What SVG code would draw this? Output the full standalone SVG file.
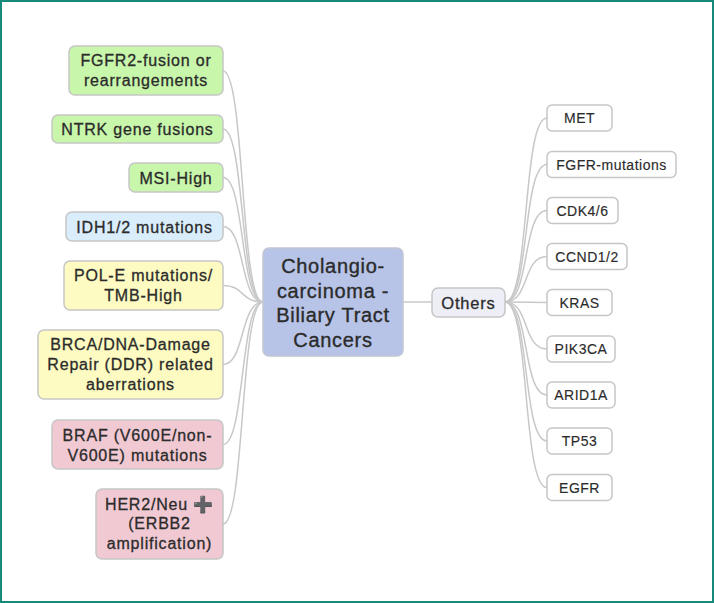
<svg xmlns="http://www.w3.org/2000/svg" width="714" height="603" viewBox="0 0 714 603">
<style>
.n{stroke:#c6c6c6;stroke-width:1.5}
.g{fill:#c8f6aa}.b{fill:#daedfb}.y{fill:#fdfbc1}.p{fill:#f1c9d2}
.t{font-family:"Liberation Sans",Arial,sans-serif;font-size:16px;letter-spacing:0.8px;fill:#2b2b2b;stroke:#2b2b2b;stroke-width:0.3px;text-anchor:middle}
.r{fill:#fff}
.s{font-family:"Liberation Sans",Arial,sans-serif;font-size:14px;letter-spacing:0.5px;fill:#2b2b2b;stroke:#2b2b2b;stroke-width:0.15px;text-anchor:middle}
.c{fill:none;stroke:#c8c8c8;stroke-width:1.5}
</style>
<rect x="0" y="0" width="714" height="603" fill="#fff"/>
<rect x="1" y="1" width="712" height="601" fill="none" stroke="#17897a" stroke-width="2"/>
<g id="connectors">
<path class="c" d="M223,71 C245,71 240,302 263,302"/>
<path class="c" d="M223,129 C245,129 240,302 263,302"/>
<path class="c" d="M223,177.5 C245,177.5 240,302 263,302"/>
<path class="c" d="M223,226.5 C245,226.5 240,302 263,302"/>
<path class="c" d="M223,285.5 C245,285.5 240,302 263,302"/>
<path class="c" d="M223,364.5 C245,364.5 240,302 263,302"/>
<path class="c" d="M223,444.5 C245,444.5 240,302 263,302"/>
<path class="c" d="M223,524 C245,524 240,302 263,302"/>
<path class="c" d="M403,302 L432,302"/>
<path class="c" d="M505,302 C530,302 522,118 547,118"/>
<path class="c" d="M505,302 C530,302 522,164.5 547,164.5"/>
<path class="c" d="M505,302 C530,302 522,210.5 547,210.5"/>
<path class="c" d="M505,302 C530,302 522,256.5 547,256.5"/>
<path class="c" d="M505,302 L547,302.5"/>
<path class="c" d="M505,302 C530,302 522,349 547,349"/>
<path class="c" d="M505,302 C530,302 522,395 547,395"/>
<path class="c" d="M505,302 C530,302 522,441 547,441"/>
<path class="c" d="M505,302 C530,302 522,487.5 547,487.5"/>
</g>
<g id="center">
<rect x="263" y="248" width="140" height="108" rx="6" fill="#b7c4e7" stroke="#c2c6d4" stroke-width="1.5"/>
<text font-family="Liberation Sans,Arial,sans-serif" font-size="20" letter-spacing="0.7" fill="#2b2b2b" stroke="#2b2b2b" stroke-width="0.35" text-anchor="middle">
<tspan x="333" y="273">Cholangio-</tspan><tspan x="333" y="297.5">carcinoma -</tspan><tspan x="333" y="322">Biliary Tract</tspan><tspan x="333" y="346.5">Cancers</tspan></text>
</g>
<g id="others">
<rect x="432" y="288" width="73" height="29" rx="6" fill="#eeeef6" stroke="#c6c6c6" stroke-width="1.5"/>
<text x="468.5" y="308.5" font-family="Liberation Sans,Arial,sans-serif" font-size="16.5" letter-spacing="0.8" fill="#2b2b2b" stroke="#2b2b2b" stroke-width="0.3" text-anchor="middle">Others</text>
</g>
<g id="fgfr2">
<rect class="n g" x="69" y="46" width="154" height="49" rx="6"/>
<text class="t"><tspan x="146" y="66">FGFR2-fusion or</tspan><tspan x="146" y="86">rearrangements</tspan></text>
</g>
<g id="ntrk">
<rect class="n g" x="52" y="115" width="171" height="28" rx="6"/>
<text class="t" x="137.5" y="135">NTRK gene fusions</text>
</g>
<g id="msi">
<rect class="n g" x="129" y="163" width="94" height="29" rx="6"/>
<text class="t" x="176" y="183.5">MSI-High</text>
</g>
<g id="idh">
<rect class="n b" x="66" y="212" width="157" height="29" rx="6"/>
<text class="t" x="144.5" y="232.5">IDH1/2 mutations</text>
</g>
<g id="pole">
<rect class="n y" x="64" y="261" width="159" height="49" rx="6"/>
<text class="t"><tspan x="143.5" y="281">POL-E mutations/</tspan><tspan x="143.5" y="301">TMB-High</tspan></text>
</g>
<g id="brca">
<rect class="n y" x="38" y="330" width="185" height="69" rx="6"/>
<text class="t"><tspan x="130.5" y="350">BRCA/DNA-Damage</tspan><tspan x="130.5" y="370">Repair (DDR) related</tspan><tspan x="130.5" y="390">aberrations</tspan></text>
</g>
<g id="braf">
<rect class="n p" x="52" y="420" width="171" height="49" rx="6"/>
<text class="t"><tspan x="137.5" y="441">BRAF (V600E/non-</tspan><tspan x="137.5" y="461">V600E) mutations</tspan></text>
</g>
<g id="her2">
<rect class="n p" x="96" y="489" width="127" height="70" rx="6"/>
<text class="t"><tspan x="159.5" y="510">HER2/Neu <tspan fill="#555" stroke="#555" font-family="DejaVu Sans,sans-serif">➕</tspan></tspan><tspan x="159.5" y="529">(ERBB2</tspan><tspan x="159.5" y="548.5">amplification)</tspan></text>
</g>
<g id="met"><rect class="n r" x="547" y="105" width="65" height="26" rx="5"/><text class="s" x="579.5" y="123">MET</text></g>
<g id="fgfrmut"><rect class="n r" x="547" y="151.5" width="129" height="26" rx="5"/><text class="s" x="611.5" y="169.5">FGFR-mutations</text></g>
<g id="cdk"><rect class="n r" x="547" y="197.5" width="71" height="26" rx="5"/><text class="s" x="582.5" y="215.5">CDK4/6</text></g>
<g id="ccnd"><rect class="n r" x="547" y="243.5" width="80" height="26" rx="5"/><text class="s" x="587" y="261.5">CCND1/2</text></g>
<g id="kras"><rect class="n r" x="547" y="289.5" width="65" height="26" rx="5"/><text class="s" x="579.5" y="307.5">KRAS</text></g>
<g id="pik3ca"><rect class="n r" x="547" y="336" width="68" height="26" rx="5"/><text class="s" x="581" y="354">PIK3CA</text></g>
<g id="arid1a"><rect class="n r" x="547" y="382" width="68" height="26" rx="5"/><text class="s" x="581" y="400">ARID1A</text></g>
<g id="tp53"><rect class="n r" x="547" y="428" width="65" height="26" rx="5"/><text class="s" x="579.5" y="446">TP53</text></g>
<g id="egfr"><rect class="n r" x="547" y="474.5" width="65" height="26" rx="5"/><text class="s" x="579.5" y="492.5">EGFR</text></g>
</svg>
